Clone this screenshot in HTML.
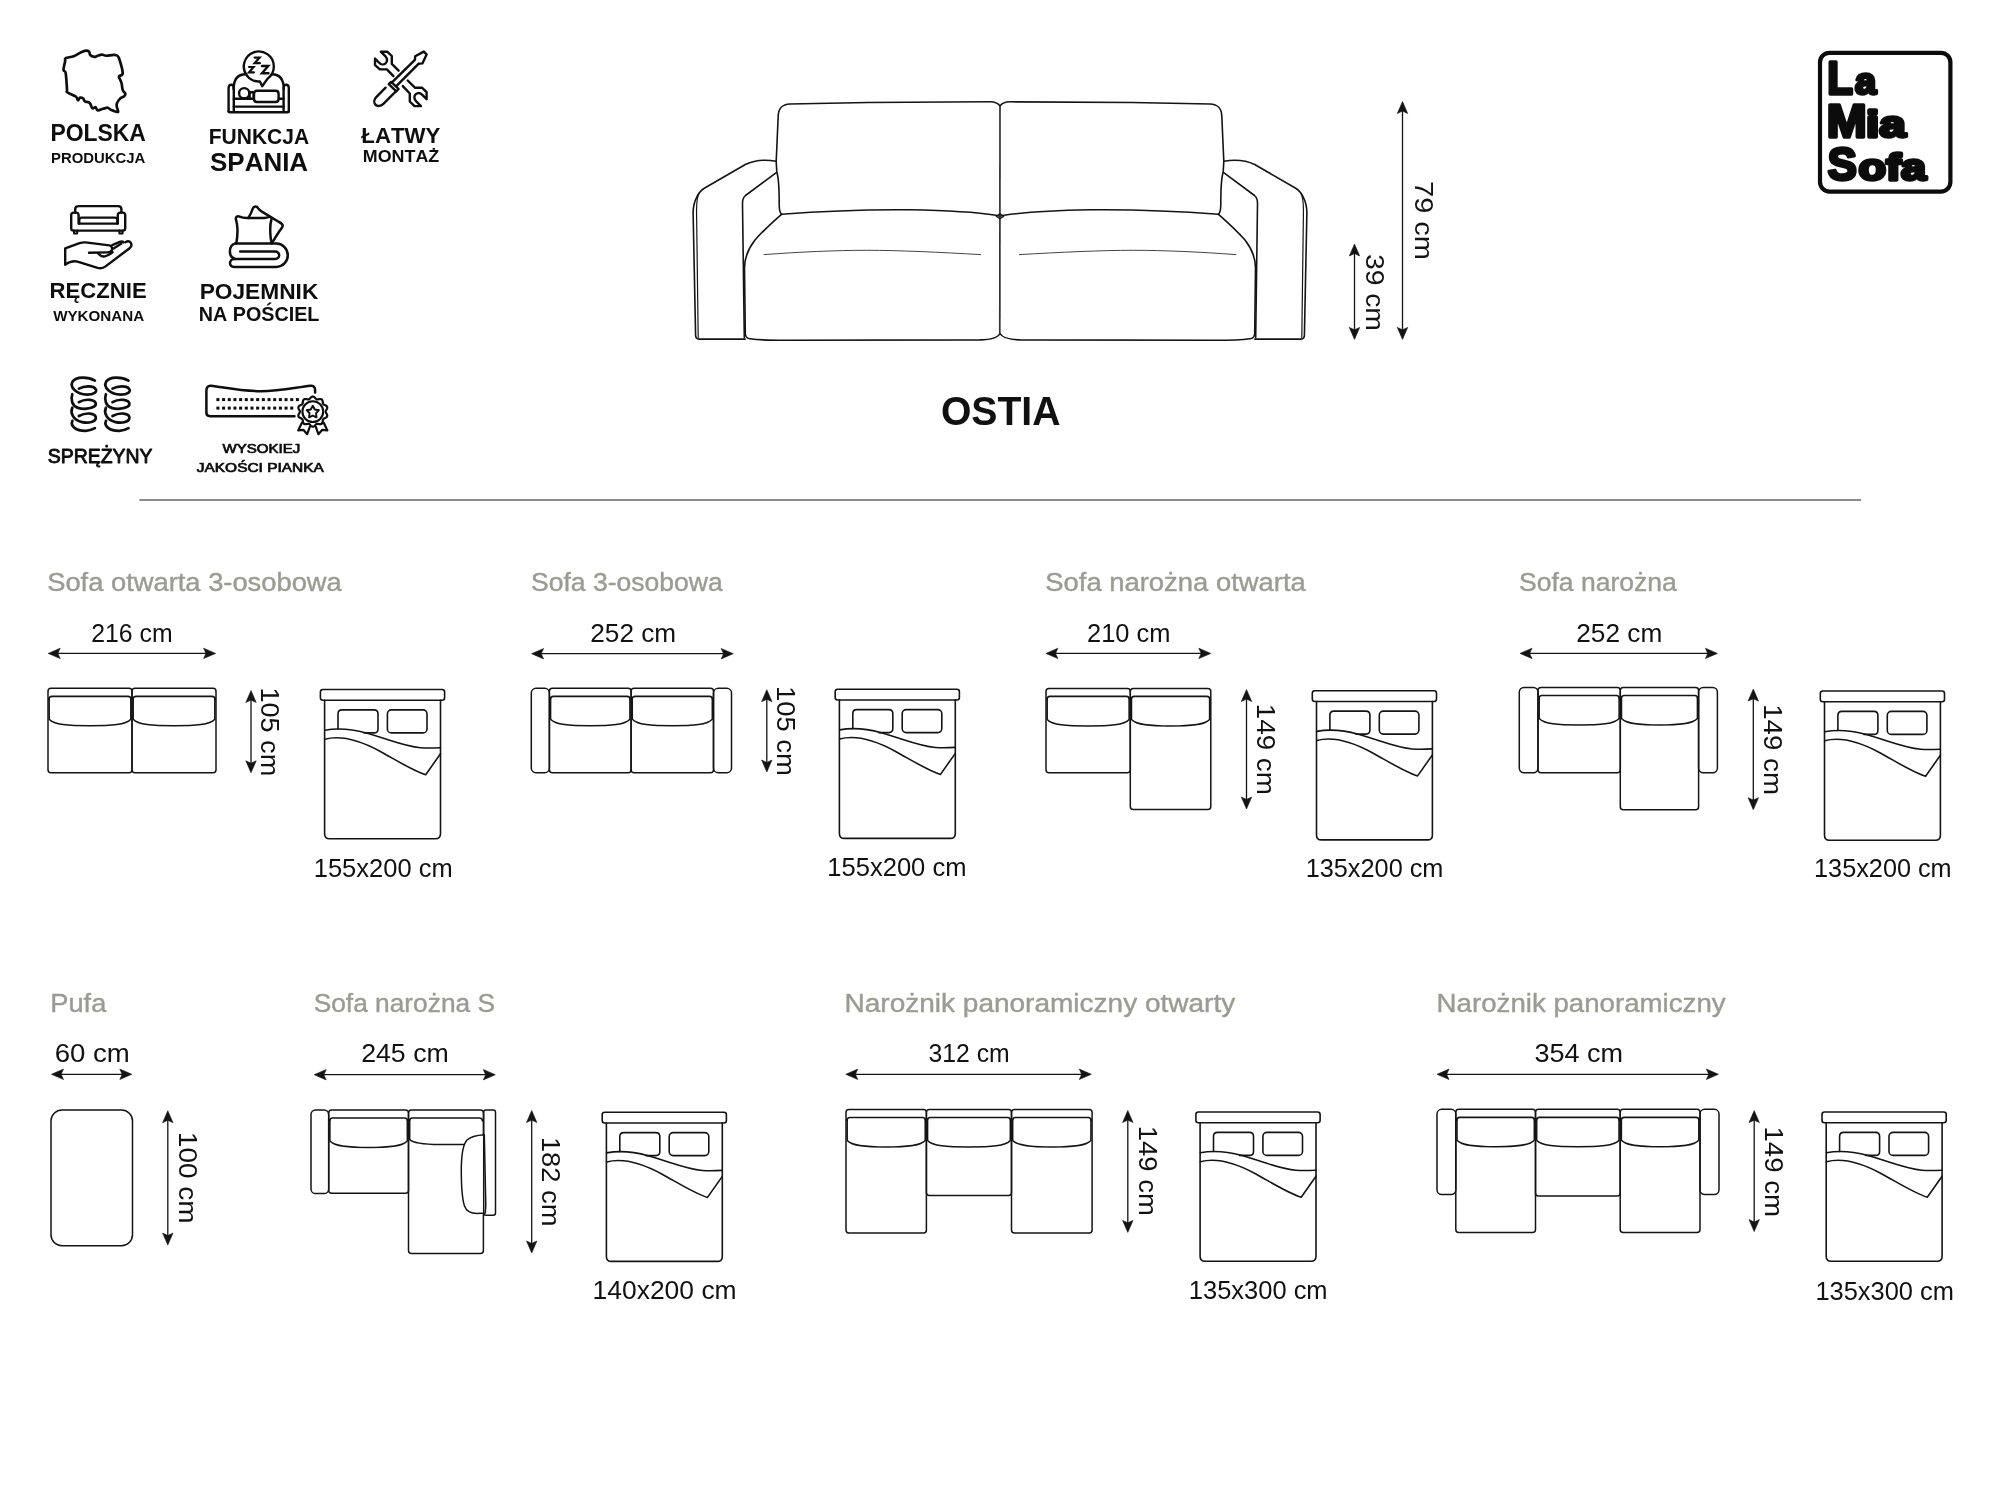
<!DOCTYPE html>
<html><head><meta charset="utf-8"><title>OSTIA</title>
<style>
html,body{margin:0;padding:0;background:#fff;}
body{width:2000px;height:1500px;overflow:hidden;}
svg{display:block;font-family:"Liberation Sans", sans-serif;will-change:transform;}
text{font-kerning:none;}
</style></head><body>
<svg width="2000" height="1500" viewBox="0 0 2000 1500">
<rect width="2000" height="1500" fill="#fff"/>
<text x="47.16" y="591.2" font-size="25.44" font-weight="normal" fill="#9b9b93" textLength="294.64" lengthAdjust="spacingAndGlyphs" stroke="#9b9b93" stroke-width="0.4" stroke-linejoin="round">Sofa otwarta 3-osobowa</text>
<text x="91.25" y="642" font-size="25" font-weight="normal" fill="#111" textLength="81.38" lengthAdjust="spacingAndGlyphs" >216 cm</text>
<line x1="56.2" y1="653.4" x2="207.6" y2="653.4" stroke="#141414" stroke-width="1.3"/>
<path d="M48.2 653.4 L60.2 648.2 L57.8 653.4 L60.2 658.6 Z" fill="#141414" stroke="#141414" stroke-width="0.6" stroke-linejoin="round"/>
<path d="M215.6 653.4 L203.6 658.6 L206 653.4 L203.6 648.2 Z" fill="#141414" stroke="#141414" stroke-width="0.6" stroke-linejoin="round"/>
<rect x="48" y="688.3" width="84" height="84.5" rx="3" fill="none" stroke="#141414" stroke-width="1.5"/>
<path d="M48.8 699.3 Q49.2 696.3 52 696.3 H128 Q130.8 696.3 131.2 699.3" fill="none" stroke="#141414" stroke-width="1.7" stroke-linejoin="round" stroke-linecap="round" />
<path d="M49.2 698.3 L49.2 719.3 C54 724.8 68 725.8 90 725.8 C112 725.8 126 724.8 130.8 719.3 L130.8 698.3" fill="none" stroke="#141414" stroke-width="1.5" stroke-linejoin="round" stroke-linecap="round" />
<rect x="132" y="688.3" width="84" height="84.5" rx="3" fill="none" stroke="#141414" stroke-width="1.5"/>
<path d="M132.8 699.3 Q133.2 696.3 136 696.3 H212 Q214.8 696.3 215.2 699.3" fill="none" stroke="#141414" stroke-width="1.7" stroke-linejoin="round" stroke-linecap="round" />
<path d="M133.2 698.3 L133.2 719.3 C138 724.8 152 725.8 174 725.8 C196 725.8 210 724.8 214.8 719.3 L214.8 698.3" fill="none" stroke="#141414" stroke-width="1.5" stroke-linejoin="round" stroke-linecap="round" />
<line x1="251" y1="698.5" x2="251" y2="764.8" stroke="#141414" stroke-width="1.3"/>
<path d="M251 690.5 L256.2 702.5 L251 700.1 L245.8 702.5 Z" fill="#141414" stroke="#141414" stroke-width="0.6" stroke-linejoin="round"/>
<path d="M251 772.8 L245.8 760.8 L251 763.2 L256.2 760.8 Z" fill="#141414" stroke="#141414" stroke-width="0.6" stroke-linejoin="round"/>
<text transform="translate(261.4,687.44) rotate(90)" x="0" y="0" font-size="25" font-weight="normal" fill="#111" textLength="88.75" lengthAdjust="spacingAndGlyphs" >105 cm</text>
<rect x="320.4" y="689.5" width="124.2" height="10.8" rx="2.5" fill="none" stroke="#141414" stroke-width="1.6"/>
<path d="M324.6 700.3 V833.7 Q324.6 838.7 329.6 838.7 H435.5 Q440.5 838.7 440.5 833.7 V700.3" fill="none" stroke="#141414" stroke-width="1.6" stroke-linejoin="round" stroke-linecap="round" />
<path d="M338 728.9 V713.9 Q338 709.9 342 709.9 H374 Q378 709.9 378 713.9 V728.9 Q378 732.9 374 732.9 H364" fill="none" stroke="#141414" stroke-width="1.6" stroke-linejoin="round" stroke-linecap="round" />
<rect x="387.4" y="709.9" width="39.6" height="23" rx="4" fill="none" stroke="#141414" stroke-width="1.6"/>
<path d="M324.8 730.2 C332.4 728.8 348.4 728 366.4 733.1 C390.4 740 404.4 746.5 420.4 747.8 C428.4 748.3 434.4 748 440.5 747.7" fill="none" stroke="#141414" stroke-width="1.6" stroke-linejoin="round" stroke-linecap="round" />
<path d="M324.8 739.3 C340.4 735 358.4 739.5 380.4 751.5 C398.4 761.5 414.4 771.5 425.7 774.7 L440.5 753.7" fill="none" stroke="#141414" stroke-width="1.6" stroke-linejoin="round" stroke-linecap="round" />
<text x="313.76" y="876.6" font-size="25" font-weight="normal" fill="#111" textLength="138.92" lengthAdjust="spacingAndGlyphs" >155x200 cm</text>
<text x="530.99" y="591.2" font-size="25.44" font-weight="normal" fill="#9b9b93" textLength="191.81" lengthAdjust="spacingAndGlyphs" stroke="#9b9b93" stroke-width="0.4" stroke-linejoin="round">Sofa 3-osobowa</text>
<text x="590.28" y="641.6" font-size="25" font-weight="normal" fill="#111" textLength="85.84" lengthAdjust="spacingAndGlyphs" >252 cm</text>
<line x1="539.6" y1="653.7" x2="725.2" y2="653.7" stroke="#141414" stroke-width="1.3"/>
<path d="M531.6 653.7 L543.6 648.5 L541.2 653.7 L543.6 658.9 Z" fill="#141414" stroke="#141414" stroke-width="0.6" stroke-linejoin="round"/>
<path d="M733.2 653.7 L721.2 658.9 L723.6 653.7 L721.2 648.5 Z" fill="#141414" stroke="#141414" stroke-width="0.6" stroke-linejoin="round"/>
<rect x="531.3" y="688.3" width="18.1" height="84.4" rx="4.7" fill="none" stroke="#141414" stroke-width="1.5"/>
<rect x="549.4" y="688.3" width="81.7" height="84.4" rx="3" fill="none" stroke="#141414" stroke-width="1.5"/>
<path d="M550.2 699.3 Q550.6 696.3 553.4 696.3 H627.1 Q629.9 696.3 630.3 699.3" fill="none" stroke="#141414" stroke-width="1.7" stroke-linejoin="round" stroke-linecap="round" />
<path d="M550.6 698.3 L550.6 719.3 C555.4 724.8 569.4 725.8 590.25 725.8 C611.1 725.8 625.1 724.8 629.9 719.3 L629.9 698.3" fill="none" stroke="#141414" stroke-width="1.5" stroke-linejoin="round" stroke-linecap="round" />
<rect x="631.1" y="688.3" width="82.4" height="84.4" rx="3" fill="none" stroke="#141414" stroke-width="1.5"/>
<path d="M631.9 699.3 Q632.3 696.3 635.1 696.3 H709.5 Q712.3 696.3 712.7 699.3" fill="none" stroke="#141414" stroke-width="1.7" stroke-linejoin="round" stroke-linecap="round" />
<path d="M632.3 698.3 L632.3 719.3 C637.1 724.8 651.1 725.8 672.3 725.8 C693.5 725.8 707.5 724.8 712.3 719.3 L712.3 698.3" fill="none" stroke="#141414" stroke-width="1.5" stroke-linejoin="round" stroke-linecap="round" />
<rect x="713.5" y="688.3" width="18" height="84.4" rx="4.7" fill="none" stroke="#141414" stroke-width="1.5"/>
<line x1="766.8" y1="697.7" x2="766.8" y2="764" stroke="#141414" stroke-width="1.3"/>
<path d="M766.8 689.7 L772 701.7 L766.8 699.3 L761.6 701.7 Z" fill="#141414" stroke="#141414" stroke-width="0.6" stroke-linejoin="round"/>
<path d="M766.8 772 L761.6 760 L766.8 762.4 L772 760 Z" fill="#141414" stroke="#141414" stroke-width="0.6" stroke-linejoin="round"/>
<text transform="translate(777.4,685.91) rotate(90)" x="0" y="0" font-size="25" font-weight="normal" fill="#111" textLength="89.9" lengthAdjust="spacingAndGlyphs" >105 cm</text>
<rect x="835.2" y="689.2" width="124.2" height="10.8" rx="2.5" fill="none" stroke="#141414" stroke-width="1.6"/>
<path d="M839.4 700 V833.4 Q839.4 838.4 844.4 838.4 H950.3 Q955.3 838.4 955.3 833.4 V700" fill="none" stroke="#141414" stroke-width="1.6" stroke-linejoin="round" stroke-linecap="round" />
<path d="M852.8 728.6 V713.6 Q852.8 709.6 856.8 709.6 H888.8 Q892.8 709.6 892.8 713.6 V728.6 Q892.8 732.6 888.8 732.6 H878.8" fill="none" stroke="#141414" stroke-width="1.6" stroke-linejoin="round" stroke-linecap="round" />
<rect x="902.2" y="709.6" width="39.6" height="23" rx="4" fill="none" stroke="#141414" stroke-width="1.6"/>
<path d="M839.6 729.9 C847.2 728.5 863.2 727.7 881.2 732.8 C905.2 739.7 919.2 746.2 935.2 747.5 C943.2 748 949.2 747.7 955.3 747.4" fill="none" stroke="#141414" stroke-width="1.6" stroke-linejoin="round" stroke-linecap="round" />
<path d="M839.6 739 C855.2 734.7 873.2 739.2 895.2 751.2 C913.2 761.2 929.2 771.2 940.5 774.4 L955.3 753.4" fill="none" stroke="#141414" stroke-width="1.6" stroke-linejoin="round" stroke-linecap="round" />
<text x="827.25" y="876.3" font-size="25" font-weight="normal" fill="#111" textLength="139.23" lengthAdjust="spacingAndGlyphs" >155x200 cm</text>
<text x="1045.26" y="591.2" font-size="25.44" font-weight="normal" fill="#9b9b93" textLength="260.54" lengthAdjust="spacingAndGlyphs" stroke="#9b9b93" stroke-width="0.4" stroke-linejoin="round">Sofa narożna otwarta</text>
<text x="1087.02" y="641.8" font-size="25" font-weight="normal" fill="#111" textLength="83.46" lengthAdjust="spacingAndGlyphs" >210 cm</text>
<line x1="1053.9" y1="653.4" x2="1202.8" y2="653.4" stroke="#141414" stroke-width="1.3"/>
<path d="M1045.9 653.4 L1057.9 648.2 L1055.5 653.4 L1057.9 658.6 Z" fill="#141414" stroke="#141414" stroke-width="0.6" stroke-linejoin="round"/>
<path d="M1210.8 653.4 L1198.8 658.6 L1201.2 653.4 L1198.8 648.2 Z" fill="#141414" stroke="#141414" stroke-width="0.6" stroke-linejoin="round"/>
<rect x="1046" y="688.4" width="84.3" height="84.4" rx="3" fill="none" stroke="#141414" stroke-width="1.5"/>
<path d="M1046.8 699.4 Q1047.2 696.4 1050 696.4 H1126.3 Q1129.1 696.4 1129.5 699.4" fill="none" stroke="#141414" stroke-width="1.7" stroke-linejoin="round" stroke-linecap="round" />
<path d="M1047.2 698.4 L1047.2 719.4 C1052 724.9 1066 725.9 1088.15 725.9 C1110.3 725.9 1124.3 724.9 1129.1 719.4 L1129.1 698.4" fill="none" stroke="#141414" stroke-width="1.5" stroke-linejoin="round" stroke-linecap="round" />
<rect x="1130.3" y="688.4" width="80.5" height="121" rx="3" fill="none" stroke="#141414" stroke-width="1.5"/>
<path d="M1131.1 699.4 Q1131.5 696.4 1134.3 696.4 H1206.8 Q1209.6 696.4 1210 699.4" fill="none" stroke="#141414" stroke-width="1.7" stroke-linejoin="round" stroke-linecap="round" />
<path d="M1131.5 698.4 L1131.5 719.4 C1136.3 724.9 1150.3 725.9 1170.55 725.9 C1190.8 725.9 1204.8 724.9 1209.6 719.4 L1209.6 698.4" fill="none" stroke="#141414" stroke-width="1.5" stroke-linejoin="round" stroke-linecap="round" />
<line x1="1246.5" y1="697.5" x2="1246.5" y2="801" stroke="#141414" stroke-width="1.3"/>
<path d="M1246.5 689.5 L1251.7 701.5 L1246.5 699.1 L1241.3 701.5 Z" fill="#141414" stroke="#141414" stroke-width="0.6" stroke-linejoin="round"/>
<path d="M1246.5 809 L1241.3 797 L1246.5 799.4 L1251.7 797 Z" fill="#141414" stroke="#141414" stroke-width="0.6" stroke-linejoin="round"/>
<text transform="translate(1257,703.79) rotate(90)" x="0" y="0" font-size="25" font-weight="normal" fill="#111" textLength="91.04" lengthAdjust="spacingAndGlyphs" >149 cm</text>
<rect x="1312.3" y="690.7" width="124.2" height="10.8" rx="2.5" fill="none" stroke="#141414" stroke-width="1.6"/>
<path d="M1316.5 701.5 V834.9 Q1316.5 839.9 1321.5 839.9 H1427.4 Q1432.4 839.9 1432.4 834.9 V701.5" fill="none" stroke="#141414" stroke-width="1.6" stroke-linejoin="round" stroke-linecap="round" />
<path d="M1329.9 730.1 V715.1 Q1329.9 711.1 1333.9 711.1 H1365.9 Q1369.9 711.1 1369.9 715.1 V730.1 Q1369.9 734.1 1365.9 734.1 H1355.9" fill="none" stroke="#141414" stroke-width="1.6" stroke-linejoin="round" stroke-linecap="round" />
<rect x="1379.3" y="711.1" width="39.6" height="23" rx="4" fill="none" stroke="#141414" stroke-width="1.6"/>
<path d="M1316.7 731.4 C1324.3 730 1340.3 729.2 1358.3 734.3 C1382.3 741.2 1396.3 747.7 1412.3 749 C1420.3 749.5 1426.3 749.2 1432.4 748.9" fill="none" stroke="#141414" stroke-width="1.6" stroke-linejoin="round" stroke-linecap="round" />
<path d="M1316.7 740.5 C1332.3 736.2 1350.3 740.7 1372.3 752.7 C1390.3 762.7 1406.3 772.7 1417.6 775.9 L1432.4 754.9" fill="none" stroke="#141414" stroke-width="1.6" stroke-linejoin="round" stroke-linecap="round" />
<text x="1305.67" y="877.2" font-size="25" font-weight="normal" fill="#111" textLength="137.79" lengthAdjust="spacingAndGlyphs" >135x200 cm</text>
<text x="1519" y="591.2" font-size="25.44" font-weight="normal" fill="#9b9b93" textLength="157.8" lengthAdjust="spacingAndGlyphs" stroke="#9b9b93" stroke-width="0.4" stroke-linejoin="round">Sofa narożna</text>
<text x="1576.28" y="641.8" font-size="25" font-weight="normal" fill="#111" textLength="85.95" lengthAdjust="spacingAndGlyphs" >252 cm</text>
<line x1="1528" y1="653.4" x2="1709.4" y2="653.4" stroke="#141414" stroke-width="1.3"/>
<path d="M1520 653.4 L1532 648.2 L1529.6 653.4 L1532 658.6 Z" fill="#141414" stroke="#141414" stroke-width="0.6" stroke-linejoin="round"/>
<path d="M1717.4 653.4 L1705.4 658.6 L1707.8 653.4 L1705.4 648.2 Z" fill="#141414" stroke="#141414" stroke-width="0.6" stroke-linejoin="round"/>
<rect x="1519.3" y="687.5" width="18.7" height="85.3" rx="4.7" fill="none" stroke="#141414" stroke-width="1.5"/>
<rect x="1538" y="687.5" width="82.3" height="85.3" rx="3" fill="none" stroke="#141414" stroke-width="1.5"/>
<path d="M1538.8 698.5 Q1539.2 695.5 1542 695.5 H1616.3 Q1619.1 695.5 1619.5 698.5" fill="none" stroke="#141414" stroke-width="1.7" stroke-linejoin="round" stroke-linecap="round" />
<path d="M1539.2 697.5 L1539.2 718.5 C1544 724 1558 725 1579.15 725 C1600.3 725 1614.3 724 1619.1 718.5 L1619.1 697.5" fill="none" stroke="#141414" stroke-width="1.5" stroke-linejoin="round" stroke-linecap="round" />
<rect x="1620.3" y="687.5" width="78.3" height="122.2" rx="3" fill="none" stroke="#141414" stroke-width="1.5"/>
<path d="M1621.1 698.5 Q1621.5 695.5 1624.3 695.5 H1694.6 Q1697.4 695.5 1697.8 698.5" fill="none" stroke="#141414" stroke-width="1.7" stroke-linejoin="round" stroke-linecap="round" />
<path d="M1621.5 697.5 L1621.5 718.5 C1626.3 724 1640.3 725 1659.45 725 C1678.6 725 1692.6 724 1697.4 718.5 L1697.4 697.5" fill="none" stroke="#141414" stroke-width="1.5" stroke-linejoin="round" stroke-linecap="round" />
<rect x="1698.6" y="687.5" width="18.8" height="85.3" rx="4.7" fill="none" stroke="#141414" stroke-width="1.5"/>
<line x1="1753.3" y1="697.1" x2="1753.3" y2="801.7" stroke="#141414" stroke-width="1.3"/>
<path d="M1753.3 689.1 L1758.5 701.1 L1753.3 698.7 L1748.1 701.1 Z" fill="#141414" stroke="#141414" stroke-width="0.6" stroke-linejoin="round"/>
<path d="M1753.3 809.7 L1748.1 797.7 L1753.3 800.1 L1758.5 797.7 Z" fill="#141414" stroke="#141414" stroke-width="0.6" stroke-linejoin="round"/>
<text transform="translate(1764,704.19) rotate(90)" x="0" y="0" font-size="25" font-weight="normal" fill="#111" textLength="90.84" lengthAdjust="spacingAndGlyphs" >149 cm</text>
<rect x="1820.3" y="691" width="124.2" height="10.8" rx="2.5" fill="none" stroke="#141414" stroke-width="1.6"/>
<path d="M1824.5 701.8 V835.2 Q1824.5 840.2 1829.5 840.2 H1935.4 Q1940.4 840.2 1940.4 835.2 V701.8" fill="none" stroke="#141414" stroke-width="1.6" stroke-linejoin="round" stroke-linecap="round" />
<path d="M1837.9 730.4 V715.4 Q1837.9 711.4 1841.9 711.4 H1873.9 Q1877.9 711.4 1877.9 715.4 V730.4 Q1877.9 734.4 1873.9 734.4 H1863.9" fill="none" stroke="#141414" stroke-width="1.6" stroke-linejoin="round" stroke-linecap="round" />
<rect x="1887.3" y="711.4" width="39.6" height="23" rx="4" fill="none" stroke="#141414" stroke-width="1.6"/>
<path d="M1824.7 731.7 C1832.3 730.3 1848.3 729.5 1866.3 734.6 C1890.3 741.5 1904.3 748 1920.3 749.3 C1928.3 749.8 1934.3 749.5 1940.4 749.2" fill="none" stroke="#141414" stroke-width="1.6" stroke-linejoin="round" stroke-linecap="round" />
<path d="M1824.7 740.8 C1840.3 736.5 1858.3 741 1880.3 753 C1898.3 763 1914.3 773 1925.6 776.2 L1940.4 755.2" fill="none" stroke="#141414" stroke-width="1.6" stroke-linejoin="round" stroke-linecap="round" />
<text x="1814.08" y="877.3" font-size="25" font-weight="normal" fill="#111" textLength="137.59" lengthAdjust="spacingAndGlyphs" >135x200 cm</text>
<text x="50.37" y="1012.2" font-size="25.44" font-weight="normal" fill="#9b9b93" textLength="55.93" lengthAdjust="spacingAndGlyphs" stroke="#9b9b93" stroke-width="0.4" stroke-linejoin="round">Pufa</text>
<text x="54.7" y="1061.8" font-size="25" font-weight="normal" fill="#111" textLength="75.12" lengthAdjust="spacingAndGlyphs" >60 cm</text>
<line x1="59.5" y1="1074.3" x2="123.8" y2="1074.3" stroke="#141414" stroke-width="1.3"/>
<path d="M51.5 1074.3 L63.5 1069.1 L61.1 1074.3 L63.5 1079.5 Z" fill="#141414" stroke="#141414" stroke-width="0.6" stroke-linejoin="round"/>
<path d="M131.8 1074.3 L119.8 1079.5 L122.2 1074.3 L119.8 1069.1 Z" fill="#141414" stroke="#141414" stroke-width="0.6" stroke-linejoin="round"/>
<rect x="51" y="1110" width="81.5" height="135.8" rx="11" fill="none" stroke="#141414" stroke-width="1.5"/>
<line x1="167.8" y1="1118.7" x2="167.8" y2="1237.1" stroke="#141414" stroke-width="1.3"/>
<path d="M167.8 1110.7 L173 1122.7 L167.8 1120.3 L162.6 1122.7 Z" fill="#141414" stroke="#141414" stroke-width="0.6" stroke-linejoin="round"/>
<path d="M167.8 1245.1 L162.6 1233.1 L167.8 1235.5 L173 1233.1 Z" fill="#141414" stroke="#141414" stroke-width="0.6" stroke-linejoin="round"/>
<text transform="translate(179.2,1131.87) rotate(90)" x="0" y="0" font-size="25" font-weight="normal" fill="#111" textLength="91.78" lengthAdjust="spacingAndGlyphs" >100 cm</text>
<text x="313.71" y="1012.2" font-size="25.44" font-weight="normal" fill="#9b9b93" textLength="181.3" lengthAdjust="spacingAndGlyphs" stroke="#9b9b93" stroke-width="0.4" stroke-linejoin="round">Sofa narożna S</text>
<text x="361.16" y="1061.8" font-size="25" font-weight="normal" fill="#111" textLength="87.6" lengthAdjust="spacingAndGlyphs" >245 cm</text>
<line x1="322.2" y1="1074.7" x2="487.3" y2="1074.7" stroke="#141414" stroke-width="1.3"/>
<path d="M314.2 1074.7 L326.2 1069.5 L323.8 1074.7 L326.2 1079.9 Z" fill="#141414" stroke="#141414" stroke-width="0.6" stroke-linejoin="round"/>
<path d="M495.3 1074.7 L483.3 1079.9 L485.7 1074.7 L483.3 1069.5 Z" fill="#141414" stroke="#141414" stroke-width="0.6" stroke-linejoin="round"/>
<rect x="311" y="1110" width="17.7" height="83.6" rx="4.7" fill="none" stroke="#141414" stroke-width="1.5"/>
<rect x="328.7" y="1110" width="79.8" height="83.3" rx="3" fill="none" stroke="#141414" stroke-width="1.5"/>
<path d="M329.5 1121 Q329.9 1118 332.7 1118 H404.5 Q407.3 1118 407.7 1121" fill="none" stroke="#141414" stroke-width="1.7" stroke-linejoin="round" stroke-linecap="round" />
<path d="M329.9 1120 L329.9 1141 C334.7 1146.5 348.7 1147.5 368.6 1147.5 C388.5 1147.5 402.5 1146.5 407.3 1141 L407.3 1120" fill="none" stroke="#141414" stroke-width="1.5" stroke-linejoin="round" stroke-linecap="round" />
<rect x="408.5" y="1110" width="74.9" height="143.6" rx="3" fill="none" stroke="#141414" stroke-width="1.5"/>
<path d="M409.3 1121 Q409.7 1118 412.5 1118 H479.4 Q482.2 1118 482.6 1121" fill="none" stroke="#141414" stroke-width="1.7" stroke-linejoin="round" stroke-linecap="round" />
<path d="M409.7 1120 L409.7 1139.5 C413 1143.2 422 1144.4 440 1144.5 L470 1144.5" fill="none" stroke="#141414" stroke-width="1.5" stroke-linejoin="round" stroke-linecap="round" />
<path d="M484.3 1134.7 C476 1135.2 470 1137 467 1140 C462.5 1145 461.2 1160 461.3 1172.5 C461.4 1188 462.5 1200 464.5 1206 C466.5 1211.5 471 1213.5 477 1213.6 L485.3 1213 L485.8 1205 L484.3 1134.7 Z" fill="#fff" stroke="#141414" stroke-width="1.5" stroke-linejoin="round" stroke-linecap="round" />
<rect x="483.7" y="1110" width="11.8" height="105.2" rx="2.2" fill="none" stroke="#141414" stroke-width="1.5"/>
<line x1="531.7" y1="1118.5" x2="531.7" y2="1245" stroke="#141414" stroke-width="1.3"/>
<path d="M531.7 1110.5 L536.9 1122.5 L531.7 1120.1 L526.5 1122.5 Z" fill="#141414" stroke="#141414" stroke-width="0.6" stroke-linejoin="round"/>
<path d="M531.7 1253 L526.5 1241 L531.7 1243.4 L536.9 1241 Z" fill="#141414" stroke="#141414" stroke-width="0.6" stroke-linejoin="round"/>
<text transform="translate(542.4,1136.92) rotate(90)" x="0" y="0" font-size="25" font-weight="normal" fill="#111" textLength="89.48" lengthAdjust="spacingAndGlyphs" >182 cm</text>
<rect x="602.2" y="1112.2" width="124.2" height="10.8" rx="2.5" fill="none" stroke="#141414" stroke-width="1.6"/>
<path d="M606.4 1123 V1256.4 Q606.4 1261.4 611.4 1261.4 H717.3 Q722.3 1261.4 722.3 1256.4 V1123" fill="none" stroke="#141414" stroke-width="1.6" stroke-linejoin="round" stroke-linecap="round" />
<path d="M619.8 1151.6 V1136.6 Q619.8 1132.6 623.8 1132.6 H655.8 Q659.8 1132.6 659.8 1136.6 V1151.6 Q659.8 1155.6 655.8 1155.6 H645.8" fill="none" stroke="#141414" stroke-width="1.6" stroke-linejoin="round" stroke-linecap="round" />
<rect x="669.2" y="1132.6" width="39.6" height="23" rx="4" fill="none" stroke="#141414" stroke-width="1.6"/>
<path d="M606.6 1152.9 C614.2 1151.5 630.2 1150.7 648.2 1155.8 C672.2 1162.7 686.2 1169.2 702.2 1170.5 C710.2 1171 716.2 1170.7 722.3 1170.4" fill="none" stroke="#141414" stroke-width="1.6" stroke-linejoin="round" stroke-linecap="round" />
<path d="M606.6 1162 C622.2 1157.7 640.2 1162.2 662.2 1174.2 C680.2 1184.2 696.2 1194.2 707.5 1197.4 L722.3 1176.4" fill="none" stroke="#141414" stroke-width="1.6" stroke-linejoin="round" stroke-linecap="round" />
<text x="592.59" y="1299.4" font-size="25" font-weight="normal" fill="#111" textLength="144.06" lengthAdjust="spacingAndGlyphs" >140x200 cm</text>
<text x="844.5" y="1012.2" font-size="25.44" font-weight="normal" fill="#9b9b93" textLength="390.75" lengthAdjust="spacingAndGlyphs" stroke="#9b9b93" stroke-width="0.4" stroke-linejoin="round">Narożnik panoramiczny otwarty</text>
<text x="928.46" y="1062.2" font-size="25" font-weight="normal" fill="#111" textLength="81.17" lengthAdjust="spacingAndGlyphs" >312 cm</text>
<line x1="853.8" y1="1074.3" x2="1083.3" y2="1074.3" stroke="#141414" stroke-width="1.3"/>
<path d="M845.8 1074.3 L857.8 1069.1 L855.4 1074.3 L857.8 1079.5 Z" fill="#141414" stroke="#141414" stroke-width="0.6" stroke-linejoin="round"/>
<path d="M1091.3 1074.3 L1079.3 1079.5 L1081.7 1074.3 L1079.3 1069.1 Z" fill="#141414" stroke="#141414" stroke-width="0.6" stroke-linejoin="round"/>
<rect x="846" y="1109.5" width="80.4" height="123.4" rx="3" fill="none" stroke="#141414" stroke-width="1.5"/>
<path d="M846.8 1120.5 Q847.2 1117.5 850 1117.5 H922.4 Q925.2 1117.5 925.6 1120.5" fill="none" stroke="#141414" stroke-width="1.7" stroke-linejoin="round" stroke-linecap="round" />
<path d="M847.2 1119.5 L847.2 1140.5 C852 1146 866 1147 886.2 1147 C906.4 1147 920.4 1146 925.2 1140.5 L925.2 1119.5" fill="none" stroke="#141414" stroke-width="1.5" stroke-linejoin="round" stroke-linecap="round" />
<rect x="926.4" y="1109.5" width="85.1" height="86" rx="3" fill="none" stroke="#141414" stroke-width="1.5"/>
<path d="M927.2 1120.5 Q927.6 1117.5 930.4 1117.5 H1007.5 Q1010.3 1117.5 1010.7 1120.5" fill="none" stroke="#141414" stroke-width="1.7" stroke-linejoin="round" stroke-linecap="round" />
<path d="M927.6 1119.5 L927.6 1140.5 C932.4 1146 946.4 1147 968.95 1147 C991.5 1147 1005.5 1146 1010.3 1140.5 L1010.3 1119.5" fill="none" stroke="#141414" stroke-width="1.5" stroke-linejoin="round" stroke-linecap="round" />
<rect x="1011.5" y="1109.5" width="80.6" height="123.4" rx="3" fill="none" stroke="#141414" stroke-width="1.5"/>
<path d="M1012.3 1120.5 Q1012.7 1117.5 1015.5 1117.5 H1088.1 Q1090.9 1117.5 1091.3 1120.5" fill="none" stroke="#141414" stroke-width="1.7" stroke-linejoin="round" stroke-linecap="round" />
<path d="M1012.7 1119.5 L1012.7 1140.5 C1017.5 1146 1031.5 1147 1051.8 1147 C1072.1 1147 1086.1 1146 1090.9 1140.5 L1090.9 1119.5" fill="none" stroke="#141414" stroke-width="1.5" stroke-linejoin="round" stroke-linecap="round" />
<line x1="1127.8" y1="1118.5" x2="1127.8" y2="1224.4" stroke="#141414" stroke-width="1.3"/>
<path d="M1127.8 1110.5 L1133 1122.5 L1127.8 1120.1 L1122.6 1122.5 Z" fill="#141414" stroke="#141414" stroke-width="0.6" stroke-linejoin="round"/>
<path d="M1127.8 1232.4 L1122.6 1220.4 L1127.8 1222.8 L1133 1220.4 Z" fill="#141414" stroke="#141414" stroke-width="0.6" stroke-linejoin="round"/>
<text transform="translate(1138.8,1125.81) rotate(90)" x="0" y="0" font-size="25" font-weight="normal" fill="#111" textLength="90" lengthAdjust="spacingAndGlyphs" >149 cm</text>
<rect x="1195.9" y="1112" width="124.2" height="10.8" rx="2.5" fill="none" stroke="#141414" stroke-width="1.6"/>
<path d="M1200.1 1122.8 V1256.2 Q1200.1 1261.2 1205.1 1261.2 H1311 Q1316 1261.2 1316 1256.2 V1122.8" fill="none" stroke="#141414" stroke-width="1.6" stroke-linejoin="round" stroke-linecap="round" />
<path d="M1213.5 1151.4 V1136.4 Q1213.5 1132.4 1217.5 1132.4 H1249.5 Q1253.5 1132.4 1253.5 1136.4 V1151.4 Q1253.5 1155.4 1249.5 1155.4 H1239.5" fill="none" stroke="#141414" stroke-width="1.6" stroke-linejoin="round" stroke-linecap="round" />
<rect x="1262.9" y="1132.4" width="39.6" height="23" rx="4" fill="none" stroke="#141414" stroke-width="1.6"/>
<path d="M1200.3 1152.7 C1207.9 1151.3 1223.9 1150.5 1241.9 1155.6 C1265.9 1162.5 1279.9 1169 1295.9 1170.3 C1303.9 1170.8 1309.9 1170.5 1316 1170.2" fill="none" stroke="#141414" stroke-width="1.6" stroke-linejoin="round" stroke-linecap="round" />
<path d="M1200.3 1161.8 C1215.9 1157.5 1233.9 1162 1255.9 1174 C1273.9 1184 1289.9 1194 1301.2 1197.2 L1316 1176.2" fill="none" stroke="#141414" stroke-width="1.6" stroke-linejoin="round" stroke-linecap="round" />
<text x="1188.86" y="1299.3" font-size="25" font-weight="normal" fill="#111" textLength="138.72" lengthAdjust="spacingAndGlyphs" >135x300 cm</text>
<text x="1436.63" y="1012.2" font-size="25.44" font-weight="normal" fill="#9b9b93" textLength="289.02" lengthAdjust="spacingAndGlyphs" stroke="#9b9b93" stroke-width="0.4" stroke-linejoin="round">Narożnik panoramiczny</text>
<text x="1534.47" y="1061.7" font-size="25" font-weight="normal" fill="#111" textLength="88.61" lengthAdjust="spacingAndGlyphs" >354 cm</text>
<line x1="1445" y1="1074.3" x2="1710.4" y2="1074.3" stroke="#141414" stroke-width="1.3"/>
<path d="M1437 1074.3 L1449 1069.1 L1446.6 1074.3 L1449 1079.5 Z" fill="#141414" stroke="#141414" stroke-width="0.6" stroke-linejoin="round"/>
<path d="M1718.4 1074.3 L1706.4 1079.5 L1708.8 1074.3 L1706.4 1069.1 Z" fill="#141414" stroke="#141414" stroke-width="0.6" stroke-linejoin="round"/>
<rect x="1437" y="1109.3" width="18.8" height="85.2" rx="4.7" fill="none" stroke="#141414" stroke-width="1.5"/>
<rect x="1455.8" y="1109.3" width="79.7" height="123.2" rx="3" fill="none" stroke="#141414" stroke-width="1.5"/>
<path d="M1456.6 1120.3 Q1457 1117.3 1459.8 1117.3 H1531.5 Q1534.3 1117.3 1534.7 1120.3" fill="none" stroke="#141414" stroke-width="1.7" stroke-linejoin="round" stroke-linecap="round" />
<path d="M1457 1119.3 L1457 1140.3 C1461.8 1145.8 1475.8 1146.8 1495.65 1146.8 C1515.5 1146.8 1529.5 1145.8 1534.3 1140.3 L1534.3 1119.3" fill="none" stroke="#141414" stroke-width="1.5" stroke-linejoin="round" stroke-linecap="round" />
<rect x="1535.5" y="1109.3" width="84.7" height="86.6" rx="3" fill="none" stroke="#141414" stroke-width="1.5"/>
<path d="M1536.3 1120.3 Q1536.7 1117.3 1539.5 1117.3 H1616.2 Q1619 1117.3 1619.4 1120.3" fill="none" stroke="#141414" stroke-width="1.7" stroke-linejoin="round" stroke-linecap="round" />
<path d="M1536.7 1119.3 L1536.7 1140.3 C1541.5 1145.8 1555.5 1146.8 1577.85 1146.8 C1600.2 1146.8 1614.2 1145.8 1619 1140.3 L1619 1119.3" fill="none" stroke="#141414" stroke-width="1.5" stroke-linejoin="round" stroke-linecap="round" />
<rect x="1620.2" y="1109.3" width="79.8" height="123.2" rx="3" fill="none" stroke="#141414" stroke-width="1.5"/>
<path d="M1621 1120.3 Q1621.4 1117.3 1624.2 1117.3 H1696 Q1698.8 1117.3 1699.2 1120.3" fill="none" stroke="#141414" stroke-width="1.7" stroke-linejoin="round" stroke-linecap="round" />
<path d="M1621.4 1119.3 L1621.4 1140.3 C1626.2 1145.8 1640.2 1146.8 1660.1 1146.8 C1680 1146.8 1694 1145.8 1698.8 1140.3 L1698.8 1119.3" fill="none" stroke="#141414" stroke-width="1.5" stroke-linejoin="round" stroke-linecap="round" />
<rect x="1700" y="1109.3" width="19" height="85.2" rx="4.7" fill="none" stroke="#141414" stroke-width="1.5"/>
<line x1="1754.2" y1="1118.6" x2="1754.2" y2="1223.6" stroke="#141414" stroke-width="1.3"/>
<path d="M1754.2 1110.6 L1759.4 1122.6 L1754.2 1120.2 L1749 1122.6 Z" fill="#141414" stroke="#141414" stroke-width="0.6" stroke-linejoin="round"/>
<path d="M1754.2 1231.6 L1749 1219.6 L1754.2 1222 L1759.4 1219.6 Z" fill="#141414" stroke="#141414" stroke-width="0.6" stroke-linejoin="round"/>
<text transform="translate(1764.8,1126.39) rotate(90)" x="0" y="0" font-size="25" font-weight="normal" fill="#111" textLength="90.63" lengthAdjust="spacingAndGlyphs" >149 cm</text>
<rect x="1822" y="1112" width="124.2" height="10.8" rx="2.5" fill="none" stroke="#141414" stroke-width="1.6"/>
<path d="M1826.2 1122.8 V1256.2 Q1826.2 1261.2 1831.2 1261.2 H1937.1 Q1942.1 1261.2 1942.1 1256.2 V1122.8" fill="none" stroke="#141414" stroke-width="1.6" stroke-linejoin="round" stroke-linecap="round" />
<path d="M1839.6 1151.4 V1136.4 Q1839.6 1132.4 1843.6 1132.4 H1875.6 Q1879.6 1132.4 1879.6 1136.4 V1151.4 Q1879.6 1155.4 1875.6 1155.4 H1865.6" fill="none" stroke="#141414" stroke-width="1.6" stroke-linejoin="round" stroke-linecap="round" />
<rect x="1889" y="1132.4" width="39.6" height="23" rx="4" fill="none" stroke="#141414" stroke-width="1.6"/>
<path d="M1826.4 1152.7 C1834 1151.3 1850 1150.5 1868 1155.6 C1892 1162.5 1906 1169 1922 1170.3 C1930 1170.8 1936 1170.5 1942.1 1170.2" fill="none" stroke="#141414" stroke-width="1.6" stroke-linejoin="round" stroke-linecap="round" />
<path d="M1826.4 1161.8 C1842 1157.5 1860 1162 1882 1174 C1900 1184 1916 1194 1927.3 1197.2 L1942.1 1176.2" fill="none" stroke="#141414" stroke-width="1.6" stroke-linejoin="round" stroke-linecap="round" />
<text x="1815.46" y="1299.6" font-size="25" font-weight="normal" fill="#111" textLength="138.41" lengthAdjust="spacingAndGlyphs" >135x300 cm</text>
<line x1="140" y1="500" x2="1860.4" y2="500" stroke="#8a8a8a" stroke-width="1.8" stroke-linecap="round"/>
<text x="940.89" y="424.5" font-size="40.5" font-weight="bold" fill="#111" textLength="119.64" lengthAdjust="spacingAndGlyphs" >OSTIA</text>
<path d="M 776.2 161.2 C 768 159.8 755 159.8 745.3 164.5 L 704.3 188.3 C 699 191.5 693.5 200 693.1 212 L 695.6 335.5 Q 695.9 339.1 699 339.1 L 745.3 339.1" fill="none" stroke="#141414" stroke-width="1.6" stroke-linejoin="round" stroke-linecap="round" />
<path d="M 699.5 192.5 C 696.5 197 696.3 205 696.6 215 L 698.2 338" fill="none" stroke="#141414" stroke-width="1.2" stroke-linejoin="round" stroke-linecap="round" />
<path d="M 776.6 172.4 L 745.5 195.5 C 743 197.5 742.4 200 742.5 204 L 744.3 337.5" fill="none" stroke="#141414" stroke-width="1.6" stroke-linejoin="round" stroke-linecap="round" />
<path d="M 1000 106 C 998 103 995 101.8 990 101.8 L 868 102.5 L 790 104 C 782 104.5 778.5 108 778.2 116 L 776.2 161.2 L 776.8 172 C 779.3 180 779.2 190 779.2 205 C 779.3 210 780 213 781.5 214.3" fill="none" stroke="#141414" stroke-width="1.6" stroke-linejoin="round" stroke-linecap="round" />
<path d="M 781.5 214.3 C 830 210.5 880 209.5 910 209.8 C 950 210.5 975 212 996 215.3 L 1000 216.3" fill="none" stroke="#141414" stroke-width="1.6" stroke-linejoin="round" stroke-linecap="round" />
<path d="M 781.5 214.3 C 775 220 762 232 755 240 C 748 249 744.5 257 744.5 268 L 745.3 334 Q 746 338.6 750 338.8 C 760 340.2 770 340.4 790 340.3 L 980 339.9 C 992 339.6 998 337.5 1000 333.5" fill="none" stroke="#141414" stroke-width="1.6" stroke-linejoin="round" stroke-linecap="round" />
<path d="M 764 254.6 C 800 252 835 250.3 866.7 250.3 C 900 250.3 940 252.3 980.6 254.6" fill="none" stroke="#444" stroke-width="1.0" stroke-linecap="round"/>
<path d="M 1223.8 161.2 C 1232 159.8 1245 159.8 1254.7 164.5 L 1295.7 188.3 C 1301 191.5 1306.5 200 1306.9 212 L 1304.4 335.5 Q 1304.1 339.1 1301 339.1 L 1254.7 339.1" fill="none" stroke="#141414" stroke-width="1.6" stroke-linejoin="round" stroke-linecap="round" />
<path d="M 1300.5 192.5 C 1303.5 197 1303.7 205 1303.4 215 L 1301.8 338" fill="none" stroke="#141414" stroke-width="1.2" stroke-linejoin="round" stroke-linecap="round" />
<path d="M 1223.4 172.4 L 1254.5 195.5 C 1257 197.5 1257.6 200 1257.5 204 L 1255.7 337.5" fill="none" stroke="#141414" stroke-width="1.6" stroke-linejoin="round" stroke-linecap="round" />
<path d="M 1000 106 C 1002 103 1005 101.8 1010 101.8 L 1132 102.5 L 1210 104 C 1218 104.5 1221.5 108 1221.8 116 L 1223.8 161.2 L 1223.2 172 C 1220.7 180 1220.8 190 1220.8 205 C 1220.7 210 1220 213 1218.5 214.3" fill="none" stroke="#141414" stroke-width="1.6" stroke-linejoin="round" stroke-linecap="round" />
<path d="M 1218.5 214.3 C 1170 210.5 1120 209.5 1090 209.8 C 1050 210.5 1025 212 1004 215.3 L 1000 216.3" fill="none" stroke="#141414" stroke-width="1.6" stroke-linejoin="round" stroke-linecap="round" />
<path d="M 1218.5 214.3 C 1225 220 1238 232 1245 240 C 1252 249 1255.5 257 1255.5 268 L 1254.7 334 Q 1254 338.6 1250 338.8 C 1240 340.2 1230 340.4 1210 340.3 L 1020 339.9 C 1008 339.6 1002 337.5 1000 333.5" fill="none" stroke="#141414" stroke-width="1.6" stroke-linejoin="round" stroke-linecap="round" />
<path d="M 1236 254.6 C 1200 252 1165 250.3 1133.3 250.3 C 1100 250.3 1060 252.3 1019.4 254.6" fill="none" stroke="#444" stroke-width="1.0" stroke-linecap="round"/>
<path d="M1000 106 L999.8 334" stroke="#333" stroke-width="1.7" fill="none"/>
<path d="M996.2 216.2 L1000 213.9 L1003.8 216.2 L1000 218.7 Z" fill="none" stroke="#141414" stroke-width="1.3" stroke-linejoin="round" stroke-linecap="round" />
<line x1="1402.5" y1="109.5" x2="1402.5" y2="331.4" stroke="#141414" stroke-width="1.3"/>
<path d="M1402.5 101.5 L1407.7 113.5 L1402.5 111.1 L1397.3 113.5 Z" fill="#141414" stroke="#141414" stroke-width="0.6" stroke-linejoin="round"/>
<path d="M1402.5 339.4 L1397.3 327.4 L1402.5 329.8 L1407.7 327.4 Z" fill="#141414" stroke="#141414" stroke-width="0.6" stroke-linejoin="round"/>
<text transform="translate(1414.56,181.12) rotate(90)" x="0" y="0" font-size="26" font-weight="normal" fill="#141414" textLength="78.79" lengthAdjust="spacingAndGlyphs" >79 cm</text>
<line x1="1354.5" y1="252" x2="1354.5" y2="331.4" stroke="#141414" stroke-width="1.3"/>
<path d="M1354.5 244 L1359.7 256 L1354.5 253.6 L1349.3 256 Z" fill="#141414" stroke="#141414" stroke-width="0.6" stroke-linejoin="round"/>
<path d="M1354.5 339.4 L1349.3 327.4 L1354.5 329.8 L1359.7 327.4 Z" fill="#141414" stroke="#141414" stroke-width="0.6" stroke-linejoin="round"/>
<text transform="translate(1365.56,253.92) rotate(90)" x="0" y="0" font-size="26" font-weight="normal" fill="#141414" textLength="76.94" lengthAdjust="spacingAndGlyphs" >39 cm</text>
<rect x="1820" y="52.8" width="130.4" height="138.8" rx="9.5" fill="none" stroke="#0c0c0c" stroke-width="4.2"/>
<text x="1827.18" y="93.8" font-size="45.5" font-weight="bold" fill="#0c0c0c" textLength="25.71" lengthAdjust="spacingAndGlyphs" stroke="#0c0c0c" stroke-width="3.4" stroke-linejoin="round">L</text>
<text x="1855.08" y="93.8" font-size="37.5" font-weight="bold" fill="#0c0c0c" textLength="21.17" lengthAdjust="spacingAndGlyphs" stroke="#0c0c0c" stroke-width="3.4" stroke-linejoin="round">a</text>
<text x="1826.8" y="136.9" font-size="45.5" font-weight="bold" fill="#0c0c0c" textLength="39.91" lengthAdjust="spacingAndGlyphs" stroke="#0c0c0c" stroke-width="3.4" stroke-linejoin="round">M</text>
<text x="1865.97" y="136.9" font-size="37.5" font-weight="bold" fill="#0c0c0c" textLength="39.72" lengthAdjust="spacingAndGlyphs" stroke="#0c0c0c" stroke-width="3.4" stroke-linejoin="round">ia</text>
<text x="1827.64" y="180.3" font-size="45.5" font-weight="bold" fill="#0c0c0c" textLength="29.06" lengthAdjust="spacingAndGlyphs" stroke="#0c0c0c" stroke-width="3.4" stroke-linejoin="round">S</text>
<text x="1858.54" y="180.3" font-size="37.5" font-weight="bold" fill="#0c0c0c" textLength="67.68" lengthAdjust="spacingAndGlyphs" stroke="#0c0c0c" stroke-width="3.4" stroke-linejoin="round">ofa</text>
<path d="M65.67 58.13 C67.16 57.24 70.96 57.3 73.67 56.27 C76.38 55.24 78.98 53.25 81.13 52.27 C83.28 51.29 84.53 50.76 85.93 50.67 C87.33 50.58 88.38 50.98 89.13 51.73 C89.88 52.48 89.27 54.04 90.2 54.93 C91.13 55.82 93.26 56.61 94.47 56.8 C95.68 56.99 95.82 56.37 97.13 56 C98.44 55.63 100.34 54.72 101.93 54.67 C103.52 54.62 103.96 55.68 106.2 55.73 C108.44 55.78 112.54 54.6 114.73 54.93 C116.92 55.26 117.33 54.43 118.73 57.6 C120.13 60.77 122.68 69.8 122.73 73.07 C122.78 76.34 119.47 75.15 119 76.27 C118.53 77.39 119.6 78.16 120.07 79.47 C120.54 80.78 121.2 81.86 121.67 83.73 C122.14 85.6 122.08 88.36 122.73 90.13 C123.38 91.9 125.21 92.75 125.4 93.87 C125.59 94.99 124.73 95.69 123.8 96.53 C122.87 97.37 121.28 97.46 120.07 98.67 C118.86 99.88 117.43 101.98 116.87 103.47 C116.31 104.96 116.68 105.71 116.87 107.2 C117.06 108.69 118.96 111.53 117.93 112 C116.9 112.47 112.77 110.62 111 109.87 C109.23 109.12 109.2 107.92 107.8 107.73 C106.4 107.54 104.77 108.33 103 108.8 C101.23 109.27 98.98 110.68 97.67 110.4 C96.36 110.12 96.46 107.57 95.53 107.2 C94.6 106.83 93.36 109.02 92.33 108.27 C91.3 107.52 90.98 104.14 89.67 102.93 C88.36 101.72 85.99 102.08 84.87 101.33 C83.75 100.58 84.11 99.32 83.27 98.67 C82.43 98.02 81 97.32 80.07 97.6 C79.14 97.88 78.68 100.46 77.93 100.27 C77.18 100.08 77.67 97.93 75.8 96.53 C73.93 95.13 68.81 93.58 67.27 92.27 C65.73 90.96 67.28 92.43 67 89.07 C66.72 85.71 66.28 76.43 65.67 73.07 C65.06 69.71 63.62 71.92 63.53 69.87 C63.44 67.82 64.76 63.38 65.13 61.33 C65.5 59.28 64.18 59.02 65.67 58.13 Z" fill="none" stroke="#0e0e0e" stroke-width="2.7" stroke-linejoin="round" stroke-linecap="round" />
<text x="50.47" y="141.2" font-size="24.4" font-weight="bold" fill="#0e0e0e" textLength="95.44" lengthAdjust="spacingAndGlyphs" >POLSKA</text>
<text x="51" y="162.8" font-size="14.8" font-weight="bold" fill="#0e0e0e" textLength="94.39" lengthAdjust="spacingAndGlyphs" >PRODUKCJA</text>
<text x="208.79" y="143.7" font-size="21.6" font-weight="bold" fill="#0e0e0e" textLength="100.36" lengthAdjust="spacingAndGlyphs" >FUNKCJA</text>
<text x="210.05" y="171.4" font-size="26.6" font-weight="bold" fill="#0e0e0e" textLength="98.03" lengthAdjust="spacingAndGlyphs" >SPANIA</text>
<text x="361.3" y="142.9" font-size="22.8" font-weight="bold" fill="#0e0e0e" textLength="79.06" lengthAdjust="spacingAndGlyphs" >ŁATWY</text>
<text x="362.8" y="161.6" font-size="17.3" font-weight="bold" fill="#0e0e0e" textLength="76.41" lengthAdjust="spacingAndGlyphs" >MONTAŻ</text>
<text x="49.62" y="298.2" font-size="22.2" font-weight="bold" fill="#0e0e0e" textLength="97.15" lengthAdjust="spacingAndGlyphs" >RĘCZNIE</text>
<text x="53.19" y="320.7" font-size="14.8" font-weight="bold" fill="#0e0e0e" textLength="91.01" lengthAdjust="spacingAndGlyphs" >WYKONANA</text>
<text x="199.68" y="299.4" font-size="22.4" font-weight="bold" fill="#0e0e0e" textLength="118.63" lengthAdjust="spacingAndGlyphs" >POJEMNIK</text>
<text x="198.78" y="320.5" font-size="19.5" font-weight="bold" fill="#0e0e0e" textLength="120.63" lengthAdjust="spacingAndGlyphs" >NA POŚCIEL</text>
<text x="47.77" y="463.05" font-size="19.54" font-weight="normal" fill="#0e0e0e" textLength="104.71" lengthAdjust="spacingAndGlyphs" stroke="#0e0e0e" stroke-width="0.9" stroke-linejoin="round">SPRĘŻYNY</text>
<text x="222.48" y="453.4" font-size="12.12" font-weight="normal" fill="#0e0e0e" textLength="77.78" lengthAdjust="spacingAndGlyphs" stroke="#0e0e0e" stroke-width="0.7" stroke-linejoin="round">WYSOKIEJ</text>
<text x="196.81" y="472.15" font-size="12.12" font-weight="normal" fill="#0e0e0e" textLength="127.07" lengthAdjust="spacingAndGlyphs" stroke="#0e0e0e" stroke-width="0.7" stroke-linejoin="round">JAKOŚCI PIANKA</text>
<path d="M233.6 89 C233.6 79.5 238 74.3 245.6 74.2" fill="none" stroke="#0e0e0e" stroke-width="2.4" stroke-linejoin="round" stroke-linecap="round" />
<path d="M271.8 74.2 C279.5 74.3 283.8 79.5 283.8 89" fill="none" stroke="#0e0e0e" stroke-width="2.4" stroke-linejoin="round" stroke-linecap="round" />
<path d="M267.6 78.6 A15 15 0 1 0 259.9 81.4 L262.2 86.2 Z" fill="none" stroke="#0e0e0e" stroke-width="2.4" stroke-linejoin="round" stroke-linecap="round" />
<path d="M228.6 111.5 V88.2 C228.6 85.8 229.8 84.7 231.2 84.7 C232.6 84.7 233.8 85.8 233.8 88.2 V111.5" fill="none" stroke="#0e0e0e" stroke-width="2.4" stroke-linejoin="round" stroke-linecap="round" />
<path d="M283.6 111.5 V88.2 C283.6 85.8 284.8 84.7 286.2 84.7 C287.6 84.7 288.8 85.8 288.8 88.2 V111.5" fill="none" stroke="#0e0e0e" stroke-width="2.4" stroke-linejoin="round" stroke-linecap="round" />
<path d="M228.6 111.2 Q228.6 112.2 229.8 112.2 H287.6 Q288.8 112.2 288.8 111.2" fill="none" stroke="#0e0e0e" stroke-width="2.4" stroke-linejoin="round" stroke-linecap="round" />
<path d="M233.8 106.6 H283.6" fill="none" stroke="#0e0e0e" stroke-width="2.4" stroke-linejoin="round" stroke-linecap="round" />
<path d="M233.8 98.8 H283.6" fill="none" stroke="#0e0e0e" stroke-width="2.4" stroke-linejoin="round" stroke-linecap="round" />
<path d="M249.6 92.2 H253.6 V98.8 H249.6 Z" fill="#fff" stroke="#0e0e0e" stroke-width="2.4" stroke-linejoin="round" stroke-linecap="round" />
<circle cx="244.2" cy="93.2" r="5.1" fill="#fff" stroke="#0e0e0e" stroke-width="2.4"/>
<path d="M257 90.8 H275.6 C277.6 90.8 278.6 92 278.6 94 V99 C278.6 101 277.6 102 275.6 102 H257 C255 102 254 101 254 99 V94 C254 92 255 90.8 257 90.8 Z" fill="#fff" stroke="#0e0e0e" stroke-width="2.4" stroke-linejoin="round" stroke-linecap="round" />
<path d="M254.6 57.6 H259.6 L254.6 63.2 H259.9" fill="none" stroke="#0e0e0e" stroke-width="2.2" stroke-linejoin="miter" stroke-linecap="round" />
<path d="M249 67 H253.6 L249 72.4 H253.9" fill="none" stroke="#0e0e0e" stroke-width="2.2" stroke-linejoin="miter" stroke-linecap="round" />
<path d="M262 66 H268.2 L262 73.2 H268.5" fill="none" stroke="#0e0e0e" stroke-width="2.4" stroke-linejoin="miter" stroke-linecap="round" />
<path d="M398.6 70.7 L391.8 63.9 V56 L387.4 51.8 H380.9 L385.3 56.2 C387.6 58.6 387.5 61.9 385.6 63.4 C383.6 65 380.9 64.6 379.4 63 L375 58.6 V65.1 L379.9 69.4 H386.9 L393.4 76.2" fill="none" stroke="#0e0e0e" stroke-width="2.4" stroke-linejoin="round" stroke-linecap="round" />
<path d="M402.8 86.1 L409.8 93.5 V101.5 L414.5 106.1 H421 L416.2 101.3 C413.8 99 413.9 95.8 415.8 94.2 C417.8 92.6 420.4 93 422 94.6 L426.6 99.2 V92.1 L421.9 87.7 H414.9 L407.7 80.5" fill="none" stroke="#0e0e0e" stroke-width="2.4" stroke-linejoin="round" stroke-linecap="round" />
<path d="M392.5 81.9 L414.9 59.9 L415.2 56.2 L423.8 51.6 L426.6 54.4 L422.4 63.4 L418.7 63.7 L396.3 86.1" fill="none" stroke="#0e0e0e" stroke-width="2.4" stroke-linejoin="round" stroke-linecap="round" />
<path d="M388.8 84.2 L391.1 81.9 L398.6 89 L396.3 91.3 Z" fill="none" stroke="#0e0e0e" stroke-width="2.4" stroke-linejoin="round" stroke-linecap="round" />
<path d="M395.6 91.6 L383.4 103.8 C380.6 106.6 377 106.4 375.4 104.6 C373.6 102.6 373.9 99.3 376.5 96.8 L385.6 87.7" fill="none" stroke="#0e0e0e" stroke-width="2.4" stroke-linejoin="round" stroke-linecap="round" />
<path d="M75.2 212.6 V209.2 C75.2 207.2 76.6 206.1 78.6 206.1 H118 C120 206.1 121.4 207.2 121.4 209.2 V212.6" fill="none" stroke="#0e0e0e" stroke-width="2.4" stroke-linejoin="round" stroke-linecap="round" />
<path d="M71.2 215.2 C71.2 213.4 72.2 212.6 73.8 212.6 H76 C77.6 212.6 78.6 213.4 78.6 215.2 V223.6 H117.8 V215.2 C117.8 213.4 118.8 212.6 120.4 212.6 H122.6 C124.2 212.6 125.2 213.4 125.2 215.2 V228.2 C125.2 229.8 124.4 230.6 122.8 230.6 H73.6 C72 230.6 71.2 229.8 71.2 228.2 Z" fill="none" stroke="#0e0e0e" stroke-width="2.4" stroke-linejoin="round" stroke-linecap="round" />
<path d="M79.2 223.6 V220.2 C79.2 218.6 80.4 217.6 82 217.6 H114.6 C116.2 217.6 117.4 218.6 117.4 220.2 V223.6" fill="none" stroke="#0e0e0e" stroke-width="2.4" stroke-linejoin="round" stroke-linecap="round" />
<path d="M74 230.6 V233.4 H77.2 V230.6 M119.4 230.6 V233.4 H122.6 V230.6" fill="none" stroke="#0e0e0e" stroke-width="2.0" stroke-linejoin="round" stroke-linecap="round" />
<path d="M65.2 264.6 V248.4 L79.5 243.2 C82 242.4 84.5 242.2 87.5 242.6 L109.5 245.4 C111.8 246 112.6 248.4 111.8 250.4 C111 252 109.5 252.4 107.5 252.4 L89 252.8" fill="none" stroke="#0e0e0e" stroke-width="2.4" stroke-linejoin="round" stroke-linecap="round" />
<path d="M112.2 245.2 L119.8 241.8 C121.4 241.2 122.8 241.3 123.6 242.4" fill="none" stroke="#0e0e0e" stroke-width="2.4" stroke-linejoin="round" stroke-linecap="round" />
<path d="M113.6 248.4 L121.4 243.4" fill="none" stroke="#0e0e0e" stroke-width="2.4" stroke-linejoin="round" stroke-linecap="round" />
<path d="M125.4 242.2 C127.4 241 129.6 241.2 130.8 242.8 C131.8 244.6 131.4 246.8 129.6 248.2 L105.6 266.4 C103.2 268.2 100.6 268.6 97.6 267.8 L77.5 261.6 C73 260.4 69.4 261.6 65.2 264.6" fill="none" stroke="#0e0e0e" stroke-width="2.4" stroke-linejoin="round" stroke-linecap="round" />
<path d="M98 253.2 C100 255.6 102.4 256.8 104.8 256.4 C107.4 256 110 254.2 112.6 252.2" fill="none" stroke="#0e0e0e" stroke-width="2.4" stroke-linejoin="round" stroke-linecap="round" />
<path d="M235.2 243.6 H276.4 C282.8 243.6 287.8 249 287.8 255.3 C287.8 261.6 282.8 266.9 276.4 266.9 H234.2 C231.6 266.9 230 265.2 230 263.1 C230 261 231.6 259.1 234.2 259 H275.2 C277.4 259 279.2 257.3 279.2 255.3 C279.2 253.3 277.4 251.6 275.2 251.6 H240.2" fill="none" stroke="#0e0e0e" stroke-width="2.5" stroke-linejoin="round" stroke-linecap="round" />
<path d="M235.2 243.6 C231.6 244.4 229.9 247.8 229.9 251.4 C229.9 255.2 232 258.2 235.2 259" fill="none" stroke="#0e0e0e" stroke-width="2.5" stroke-linejoin="round" stroke-linecap="round" />
<path d="M236.4 243.2 C237.2 238 237.8 233.5 237.4 228.2 C237.1 224.5 236.8 222.2 236 219.6 C235.2 217.2 237.4 215.6 239.6 216.6 C241.2 217.4 243.2 217.9 247 217.9 H264 C266 217.9 267.6 217.6 268.8 217 C270.6 216.3 272.2 218 271.3 220 C270.3 223 270.1 228 270.3 233 C270.4 237 270.9 240.2 271.6 243.2" fill="none" stroke="#0e0e0e" stroke-width="2.5" stroke-linejoin="round" stroke-linecap="round" />
<path d="M248.4 217.9 C250.6 214.2 252 211.2 252.6 209 C253.6 206.2 256.6 205.6 258.2 208.4 C259.5 210.4 261 211.1 263.5 212.6 L279 222 C281.5 223.1 283.4 224.6 282.4 227 C281 229 279.6 230.6 278.2 233 L272 242.8" fill="none" stroke="#0e0e0e" stroke-width="2.5" stroke-linejoin="round" stroke-linecap="round" />
<path d="M94.9 380.6 C88 376.6 76 376.4 72.6 381.6 C69.2 387.6 77 394.6 87 394.6 C94 394.6 97.6 391.6 95.6 389 C93 385 84 386 78.9 388.6" fill="none" stroke="#0e0e0e" stroke-width="2.7" stroke-linejoin="round" stroke-linecap="round" />
<path d="M72.3 394.2 C70.5 399.2 72 406 78 407.9 C85 410 95 408 95.8 404.4 C96.5 399.6 86 398 78.9 402.2" fill="none" stroke="#0e0e0e" stroke-width="2.7" stroke-linejoin="round" stroke-linecap="round" />
<path d="M72.3 407.7 C70 413 73 420 82 422.1 C89 423.6 95.5 421.6 95.8 418.4 C96.3 412.6 86 412.2 78.9 416" fill="none" stroke="#0e0e0e" stroke-width="2.7" stroke-linejoin="round" stroke-linecap="round" />
<path d="M72.4 420.8 C70 426.2 76 431 85.8 430.8 C89.5 430.7 92.5 429.6 94.9 428.2" fill="none" stroke="#0e0e0e" stroke-width="2.7" stroke-linejoin="round" stroke-linecap="round" />
<path d="M128.5 380.6 C121.6 376.6 109.6 376.4 106.2 381.6 C102.8 387.6 110.6 394.6 120.6 394.6 C127.6 394.6 131.2 391.6 129.2 389 C126.6 385 117.6 386 112.5 388.6" fill="none" stroke="#0e0e0e" stroke-width="2.7" stroke-linejoin="round" stroke-linecap="round" />
<path d="M105.9 394.2 C104.1 399.2 105.6 406 111.6 407.9 C118.6 410 128.6 408 129.4 404.4 C130.1 399.6 119.6 398 112.5 402.2" fill="none" stroke="#0e0e0e" stroke-width="2.7" stroke-linejoin="round" stroke-linecap="round" />
<path d="M105.9 407.7 C103.6 413 106.6 420 115.6 422.1 C122.6 423.6 129.1 421.6 129.4 418.4 C129.9 412.6 119.6 412.2 112.5 416" fill="none" stroke="#0e0e0e" stroke-width="2.7" stroke-linejoin="round" stroke-linecap="round" />
<path d="M106 420.8 C103.6 426.2 109.6 431 119.4 430.8 C123.1 430.7 126.1 429.6 128.5 428.2" fill="none" stroke="#0e0e0e" stroke-width="2.7" stroke-linejoin="round" stroke-linecap="round" />
<path d="M315.1 392.6 V390 C315.1 386.5 312.8 385.5 310.5 385.7 C295 387.5 280 391.2 260.8 391.2 C240 391.2 225 387.5 211 385.8 C208 385.5 206.4 387.5 206.4 390.5 V412.8 C206.4 415 208 416.2 210.1 416.2 H294.5" fill="none" stroke="#0e0e0e" stroke-width="2.5" stroke-linejoin="round" stroke-linecap="round" />
<rect x="216.4" y="398.1" width="3" height="3" fill="#0e0e0e"/>
<rect x="222.08" y="398.1" width="3" height="3" fill="#0e0e0e"/>
<rect x="227.76" y="398.1" width="3" height="3" fill="#0e0e0e"/>
<rect x="233.44" y="398.1" width="3" height="3" fill="#0e0e0e"/>
<rect x="239.12" y="398.1" width="3" height="3" fill="#0e0e0e"/>
<rect x="244.8" y="398.1" width="3" height="3" fill="#0e0e0e"/>
<rect x="250.48" y="398.1" width="3" height="3" fill="#0e0e0e"/>
<rect x="256.16" y="398.1" width="3" height="3" fill="#0e0e0e"/>
<rect x="261.84" y="398.1" width="3" height="3" fill="#0e0e0e"/>
<rect x="267.52" y="398.1" width="3" height="3" fill="#0e0e0e"/>
<rect x="273.2" y="398.1" width="3" height="3" fill="#0e0e0e"/>
<rect x="278.88" y="398.1" width="3" height="3" fill="#0e0e0e"/>
<rect x="284.56" y="398.1" width="3" height="3" fill="#0e0e0e"/>
<rect x="290.24" y="398.1" width="3" height="3" fill="#0e0e0e"/>
<rect x="295.92" y="398.1" width="3" height="3" fill="#0e0e0e"/>
<rect x="216.4" y="406.6" width="3" height="3" fill="#0e0e0e"/>
<rect x="222.08" y="406.6" width="3" height="3" fill="#0e0e0e"/>
<rect x="227.76" y="406.6" width="3" height="3" fill="#0e0e0e"/>
<rect x="233.44" y="406.6" width="3" height="3" fill="#0e0e0e"/>
<rect x="239.12" y="406.6" width="3" height="3" fill="#0e0e0e"/>
<rect x="244.8" y="406.6" width="3" height="3" fill="#0e0e0e"/>
<rect x="250.48" y="406.6" width="3" height="3" fill="#0e0e0e"/>
<rect x="256.16" y="406.6" width="3" height="3" fill="#0e0e0e"/>
<rect x="261.84" y="406.6" width="3" height="3" fill="#0e0e0e"/>
<rect x="267.52" y="406.6" width="3" height="3" fill="#0e0e0e"/>
<rect x="273.2" y="406.6" width="3" height="3" fill="#0e0e0e"/>
<rect x="278.88" y="406.6" width="3" height="3" fill="#0e0e0e"/>
<rect x="284.56" y="406.6" width="3" height="3" fill="#0e0e0e"/>
<rect x="290.24" y="406.6" width="3" height="3" fill="#0e0e0e"/>
<path d="M312.8 396.5 L313.19 396.54 L313.58 396.67 L313.96 396.87 L314.32 397.13 L314.66 397.44 L314.99 397.77 L315.3 398.11 L315.6 398.44 L315.89 398.74 L316.18 399 L316.47 399.2 L316.79 399.33 L317.12 399.4 L317.48 399.42 L317.86 399.38 L318.27 399.31 L318.7 399.22 L319.16 399.13 L319.62 399.05 L320.07 399 L320.52 399 L320.94 399.06 L321.33 399.19 L321.68 399.38 L321.97 399.65 L322.21 399.98 L322.4 400.36 L322.54 400.79 L322.63 401.24 L322.7 401.7 L322.75 402.16 L322.8 402.6 L322.85 403.01 L322.94 403.39 L323.06 403.72 L323.24 404.02 L323.46 404.27 L323.74 404.49 L324.07 404.69 L324.45 404.88 L324.85 405.06 L325.27 405.24 L325.69 405.45 L326.09 405.68 L326.45 405.94 L326.76 406.24 L327 406.57 L327.16 406.93 L327.24 407.32 L327.24 407.73 L327.17 408.15 L327.03 408.57 L326.85 409 L326.63 409.41 L326.4 409.81 L326.18 410.19 L325.98 410.56 L325.83 410.92 L325.73 411.26 L325.7 411.6 L325.73 411.94 L325.83 412.28 L325.98 412.64 L326.18 413.01 L326.4 413.39 L326.63 413.79 L326.85 414.2 L327.03 414.63 L327.17 415.05 L327.24 415.47 L327.24 415.88 L327.16 416.27 L327 416.63 L326.76 416.96 L326.45 417.26 L326.09 417.52 L325.69 417.75 L325.27 417.96 L324.85 418.14 L324.45 418.33 L324.07 418.51 L323.74 418.71 L323.46 418.93 L323.24 419.18 L323.06 419.48 L322.94 419.81 L322.85 420.19 L322.8 420.6 L322.75 421.04 L322.7 421.5 L322.63 421.96 L322.54 422.41 L322.4 422.84 L322.21 423.22 L321.97 423.55 L321.68 423.82 L321.33 424.01 L320.94 424.14 L320.52 424.2 L320.07 424.2 L319.62 424.15 L319.16 424.07 L318.7 423.98 L318.27 423.89 L317.86 423.82 L317.48 423.78 L317.12 423.8 L316.79 423.87 L316.47 424 L316.18 424.2 L315.89 424.46 L315.6 424.76 L315.3 425.09 L314.99 425.43 L314.66 425.76 L314.32 426.07 L313.96 426.33 L313.58 426.53 L313.19 426.66 L312.8 426.7 L312.41 426.66 L312.02 426.53 L311.64 426.33 L311.28 426.07 L310.94 425.76 L310.61 425.43 L310.3 425.09 L310 424.76 L309.71 424.46 L309.42 424.2 L309.13 424 L308.81 423.87 L308.48 423.8 L308.12 423.78 L307.74 423.82 L307.33 423.89 L306.9 423.98 L306.44 424.07 L305.98 424.15 L305.53 424.2 L305.08 424.2 L304.66 424.14 L304.27 424.01 L303.92 423.82 L303.63 423.55 L303.39 423.22 L303.2 422.84 L303.06 422.41 L302.97 421.96 L302.9 421.5 L302.85 421.04 L302.8 420.6 L302.75 420.19 L302.66 419.81 L302.54 419.48 L302.36 419.18 L302.14 418.93 L301.86 418.71 L301.53 418.51 L301.15 418.33 L300.75 418.14 L300.33 417.96 L299.91 417.75 L299.51 417.52 L299.15 417.26 L298.84 416.96 L298.6 416.63 L298.44 416.27 L298.36 415.88 L298.36 415.47 L298.43 415.05 L298.57 414.63 L298.75 414.2 L298.97 413.79 L299.2 413.39 L299.42 413.01 L299.62 412.64 L299.77 412.28 L299.87 411.94 L299.9 411.6 L299.87 411.26 L299.77 410.92 L299.62 410.56 L299.42 410.19 L299.2 409.81 L298.97 409.41 L298.75 409 L298.57 408.57 L298.43 408.15 L298.36 407.73 L298.36 407.32 L298.44 406.93 L298.6 406.57 L298.84 406.24 L299.15 405.94 L299.51 405.68 L299.91 405.45 L300.33 405.24 L300.75 405.06 L301.15 404.88 L301.53 404.69 L301.86 404.49 L302.14 404.27 L302.36 404.02 L302.54 403.72 L302.66 403.39 L302.75 403.01 L302.8 402.6 L302.85 402.16 L302.9 401.7 L302.97 401.24 L303.06 400.79 L303.2 400.36 L303.39 399.98 L303.63 399.65 L303.92 399.38 L304.27 399.19 L304.66 399.06 L305.08 399 L305.53 399 L305.98 399.05 L306.44 399.13 L306.9 399.22 L307.33 399.31 L307.74 399.38 L308.12 399.42 L308.48 399.4 L308.81 399.33 L309.13 399.2 L309.42 399 L309.71 398.74 L310 398.44 L310.3 398.11 L310.61 397.77 L310.94 397.44 L311.28 397.13 L311.64 396.87 L312.02 396.67 L312.41 396.54 Z" fill="#fff" stroke="#0e0e0e" stroke-width="2.2"/>
<circle cx="312.8" cy="411.6" r="10.4" fill="none" stroke="#0e0e0e" stroke-width="2.1"/>
<path d="M312.8 405.8 L314.8 409.45 L318.89 410.22 L316.03 413.25 L316.56 417.38 L312.8 415.6 L309.04 417.38 L309.57 413.25 L306.71 410.22 L310.8 409.45 Z" fill="none" stroke="#0e0e0e" stroke-width="1.9" stroke-linejoin="round"/>
<path d="M302 422.6 L298.2 430.4 L303.3 429.8 L307.2 434.2 L309.8 426.8" fill="none" stroke="#0e0e0e" stroke-width="2.2" stroke-linejoin="round" stroke-linecap="round" />
<path d="M323.6 422.6 L327.4 430.4 L322.3 429.8 L318.4 434.2 L315.8 426.8" fill="none" stroke="#0e0e0e" stroke-width="2.2" stroke-linejoin="round" stroke-linecap="round" />
</svg>
</body></html>
